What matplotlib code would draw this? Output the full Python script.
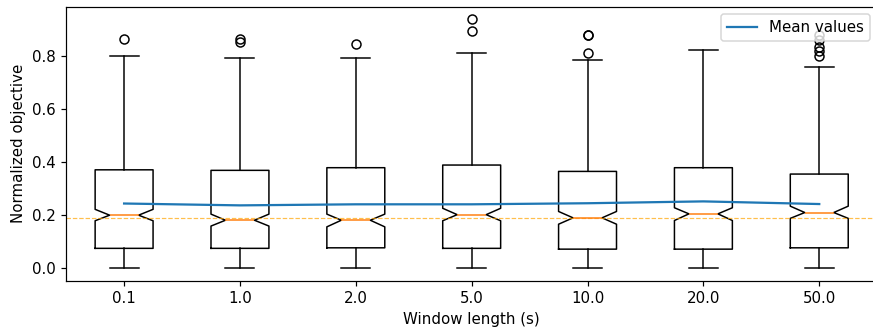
import numpy as np
from matplotlib import pyplot as plt

window_lengths = ["0.1", "1.0", "2.0", "5.0", "10.0", "20.0", "50.0"]

# per-window box statistics of the normalized objective
q1 = [0.075, 0.075, 0.077, 0.075, 0.072, 0.072, 0.077]
medians = [0.200, 0.181, 0.181, 0.202, 0.190, 0.205, 0.210]
q3 = [0.371, 0.369, 0.379, 0.389, 0.365, 0.379, 0.355]
whis_lo = [0.0, 0.0, 0.0, 0.0, 0.0, 0.0, 0.0]
whis_hi = [0.800, 0.794, 0.794, 0.811, 0.785, 0.824, 0.760]
ci_lo = [0.179, 0.159, 0.156, 0.179, 0.166, 0.180, 0.188]
ci_hi = [0.222, 0.204, 0.204, 0.226, 0.214, 0.228, 0.234]
outliers = [
    [0.865],
    [0.865, 0.854],
    [0.846],
    [0.938, 0.894],
    [0.881, 0.879, 0.811],
    [],
    [0.800, 0.819, 0.835, 0.862, 0.881],
]
mean_values = [0.244, 0.237, 0.241, 0.241, 0.245, 0.252, 0.242]
baseline = 0.190

stats = [
    {
        "med": medians[i],
        "q1": q1[i],
        "q3": q3[i],
        "whislo": whis_lo[i],
        "whishi": whis_hi[i],
        "cilo": ci_lo[i],
        "cihi": ci_hi[i],
        "fliers": np.array(outliers[i]),
    }
    for i in range(len(window_lengths))
]

DPI = 108
fig = plt.figure(figsize=(873 / DPI, 331 / DPI), dpi=DPI)
ax = fig.add_axes((0.0758, 0.152, 0.929, 0.827))

positions = np.arange(1, len(window_lengths) + 1)
ax.bxp(stats, positions=positions, shownotches=True)
ax.plot(positions, mean_values, color="C0", label="Mean values")
ax.axhline(baseline, color="orange", linestyle="--", linewidth=0.8, alpha=0.7)

ax.set_xticks(positions, window_lengths)
ax.set_xlim(0.5, len(window_lengths) + 0.5)
ax.set_xlabel("Window length (s)")
ax.set_ylabel("Normalized objective")
ax.legend(loc="upper right")

fig.savefig("out.png", dpi=DPI)
